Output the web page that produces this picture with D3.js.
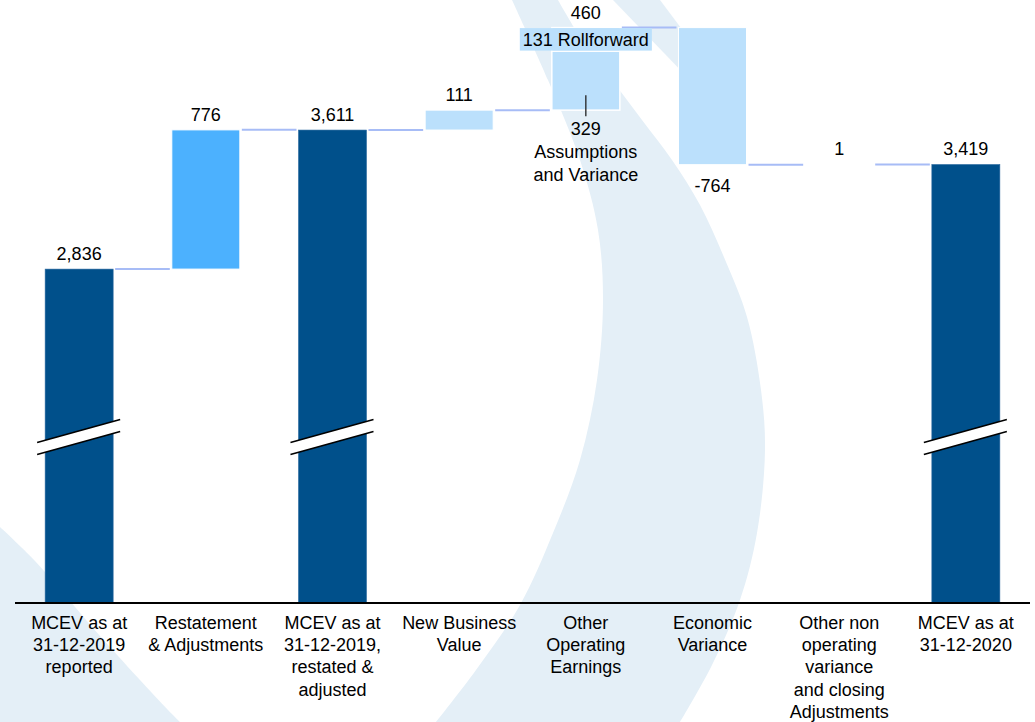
<!DOCTYPE html>
<html>
<head>
<meta charset="utf-8">
<script src="https://cdn.jsdelivr.net/npm/d3@7"></script>
<style>
  html, body { margin: 0; padding: 0; background: #ffffff; }
  svg { display: block; }
  text { font-family: "Liberation Sans", Arial, sans-serif; fill: #000; }
</style>
</head>
<body>
<script>
// ---------------- DATA ----------------
const categories = [
  "MCEV as at 31-12-2019 reported",
  "Restatement & Adjustments",
  "MCEV as at 31-12-2019, restated & adjusted",
  "New Business Value",
  "Other Operating Earnings",
  "Economic Variance",
  "Other non operating variance and closing Adjustments",
  "MCEV as at 31-12-2020"
];
const categoryLines = [
  ["MCEV as at", "31-12-2019", "reported"],
  ["Restatement", "& Adjustments"],
  ["MCEV as at", "31-12-2019,", "restated &", "adjusted"],
  ["New Business", "Value"],
  ["Other", "Operating", "Earnings"],
  ["Economic", "Variance"],
  ["Other non", "operating", "variance", "and closing", "Adjustments"],
  ["MCEV as at", "31-12-2020"]
];
const values = [2836, 776, 3611, 111, 460, -764, 1, 3419];
const valueLabels = ["2,836", "776", "3,611", "111", "460", "-764", "1", "3,419"];
const barKinds = ["total", "restate", "total", "delta", "delta", "delta", "delta", "total"];
// Other Operating Earnings split
const ooeParts = [329, 131];
const ooePartLabels = [["329", "Assumptions", "and Variance"], ["131 Rollforward"]];
const axisBreakValue = 975;   // value at the (broken) baseline

// ---------------- LAYOUT ----------------
const W = 1035, H = 722;
const baseY = 603;
const colors = { total: "#00508b", restate: "#4cb1fe", delta: "#bbe0fc" };
const connectorColor = "#a7bcf6";
const watermark = "#e4eff7";

const svg = d3.select("body").append("svg").attr("width", W).attr("height", H);

// watermark decoration
const wm = svg.append("g");
const curve = d3.line().curve(d3.curveCatmullRom.alpha(0.5));
const crescentLeft = [[512,0],[548,80],[580,160],[598,230],[603,300],[597,380],[580,460],[553,533],[520,605],[476,670],[436,722]];
const crescentRight = [[680,722],[712,665],[740,600],[757,533],[765,450],[761,390],[747,317],[726,262],[700,205],[672,160],[642,120],[612,80],[582,40],[558,0]];
wm.append("path")
  .attr("d", curve(crescentLeft) + "L" + curve(crescentRight).slice(1) + "Z")
  .attr("fill", watermark);
wm.append("path")
  .attr("d", "M613,0 L660,0 L720,80 L690,80 Z")
  .attr("fill", watermark);
wm.append("path")
  .attr("d", curve([[0,527],[35,561],[100,636],[168,710],[180,722]]) + "L0,722Z")
  .attr("fill", watermark);

// scales
const x = d3.scaleBand().domain(categories).range([16, 1029]).paddingInner(0.463).paddingOuter(0.23);
const yTop = 3611 + 111 + 460;
const y = d3.scaleLinear().domain([axisBreakValue, yTop]).range([baseY, 27.6]);

// compute waterfall
let running = 0;
const bars = values.map((v, i) => {
  let start, end;
  if (barKinds[i] === "total") { start = axisBreakValue; end = v; running = v; }
  else { start = running; end = running + v; running = end; }
  return { cat: categories[i], i, v, start, end, kind: barKinds[i] };
});

const g = svg.append("g");

// connectors
bars.forEach((b, i) => {
  if (i === bars.length - 1) return;
  const nb = bars[i + 1];
  g.append("line")
    .attr("x1", x(b.cat) + x.bandwidth() + 2)
    .attr("x2", x(nb.cat) - 2)
    .attr("y1", y(b.end)).attr("y2", y(b.end))
    .attr("stroke", connectorColor).attr("stroke-width", 2);
});

// bars
bars.forEach(b => {
  if (b.cat === categories[4]) return; // drawn as parts
  g.append("rect")
    .attr("x", x(b.cat))
    .attr("width", x.bandwidth())
    .attr("y", y(Math.max(b.start, b.end)))
    .attr("height", Math.abs(y(b.start) - y(b.end)))
    .attr("fill", colors[b.kind])
    .attr("stroke", b.kind === "total" ? "#2c6aa0" : "#ffffff")
    .attr("stroke-width", b.kind === "total" ? 0.6 : 1);
});

// OOE stacked parts
const ooe = bars[4];
let s = ooe.start;
const partRects = ooeParts.map(p => { const r = { a: s, b: s + p }; s += p; return r; });
partRects.forEach(r => {
  g.append("rect")
    .attr("x", x(ooe.cat))
    .attr("width", x.bandwidth())
    .attr("y", y(r.b))
    .attr("height", y(r.a) - y(r.b))
    .attr("fill", colors.delta)
    .attr("stroke", "#ffffff").attr("stroke-width", 1.5);
});

// axis break marks on total bars
bars.filter(b => b.kind === "total").forEach(b => {
  const x0 = x(b.cat) - 8, x1 = x(b.cat) + x.bandwidth() + 7;
  const yc = 431, dy = 11.5, gap = 6;
  g.append("path")
    .attr("d", `M${x0},${yc + dy} L${x1},${yc - dy} L${x1},${yc - dy + 2*gap} L${x0},${yc + dy + 2*gap} Z`)
    .attr("fill", "#ffffff");
  [0, 2*gap].forEach(o => {
    g.append("line")
      .attr("x1", x0).attr("y1", yc + dy + o)
      .attr("x2", x1).attr("y2", yc - dy + o)
      .attr("stroke", "#000").attr("stroke-width", 1.6);
  });
});

// axis baseline
const axis = d3.axisBottom(x).tickSize(0).tickFormat("");
const ax = svg.append("g").attr("transform", `translate(0,${baseY})`).call(axis);
ax.select(".domain").attr("stroke", "#000").attr("stroke-width", 2.2)
  .attr("d", `M15,0H1030`);

// category labels
categories.forEach((c, i) => {
  const t = svg.append("text")
    .attr("text-anchor", "middle")
    .attr("font-size", 18);
  categoryLines[i].forEach((ln, k) => {
    t.append("tspan").attr("x", x(c) + x.bandwidth() / 2).attr("y", 629 + k * 22.2).text(ln);
  });
});

// value labels
bars.forEach((b, i) => {
  const cx = x(b.cat) + x.bandwidth() / 2;
  const ty = b.v < 0 ? y(b.end) + 27 : y(b.end) - 9;
  svg.append("text")
    .attr("x", cx).attr("y", ty)
    .attr("text-anchor", "middle").attr("font-size", 18)
    .text(valueLabels[i]);
});

// OOE part labels
{
  const cx = x(ooe.cat) + x.bandwidth() / 2;
  const r = partRects[1];
  const yMid = (y(r.a) + y(r.b)) / 2;
  const lbl = svg.append("g");
  const bg = lbl.append("rect").attr("fill", colors.delta);
  const tt = lbl.append("text").attr("x", cx).attr("y", yMid + 6.5)
    .attr("text-anchor", "middle").attr("font-size", 18).text(ooePartLabels[1][0]);
  const bb = tt.node().getBBox();
  bg.attr("x", bb.x - 3).attr("width", bb.width + 6)
    .attr("y", y(r.b) + 0.5).attr("height", y(r.a) - y(r.b) - 1);
  const a = partRects[0];
  svg.append("line").attr("x1", cx).attr("x2", cx)
    .attr("y1", y(a.a) - 15).attr("y2", y(a.a) + 6)
    .attr("stroke", "#222").attr("stroke-width", 1.3);
  const t2 = svg.append("text").attr("text-anchor", "middle").attr("font-size", 18);
  ooePartLabels[0].forEach((ln, k) => {
    t2.append("tspan").attr("x", cx).attr("y", y(a.a) + 25 + k * 23).text(ln);
  });
}
</script>
</body>
</html>
